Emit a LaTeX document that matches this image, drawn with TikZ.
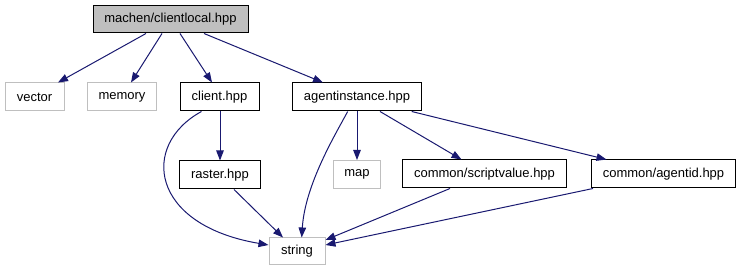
\documentclass[tikz,border=0pt]{standalone}
\usepackage{fontspec}
\setmainfont{Liberation Sans}
\usetikzlibrary{arrows.meta}
\definecolor{linkblue}{HTML}{191970}
\definecolor{greybox}{HTML}{BFBFBF}
\tikzset{
  inc/.style={draw=black, line width=1pt, inner sep=0pt, minimum height=28pt, font=\fontsize{13}{15}\selectfont},
  sysinc/.style={inc, draw=greybox},
  cur/.style={inc, fill=greybox, minimum height=27pt},
  dep/.style={draw=linkblue, line width=1pt, -{Triangle[length=10pt,width=7.5pt,fill=linkblue]}},
}

\begin{document}
\begin{tikzpicture}[x=1pt,y=-1pt]
  \useasboundingbox (0,0) rectangle (737,272);
  \node[cur,minimum width=155pt] (cl) at (170.5,19.5) {machen/clientlocal.hpp};
  \node[sysinc,minimum width=59pt] (vec) at (34.5,97) {vector};
  \node[sysinc,minimum width=69pt] (mem) at (122,97) {memory};
  \node[inc,minimum width=79pt] (cli) at (219.5,97) {client.hpp};
  \node[inc,minimum width=129pt] (ai) at (357,97) {agentinstance.hpp};
  \node[inc,minimum width=81pt] (ras) at (220,175) {raster.hpp};
  \node[sysinc,minimum width=47pt] (map) at (357,174.5) {map};
  \node[inc,minimum width=164pt] (sv) at (484.5,174) {common/scriptvalue.hpp};
  \node[inc,minimum width=144pt] (aid) at (663.5,174) {common/agentid.hpp};
  \node[sysinc,minimum width=56pt,minimum height=27pt] (str) at (297,251.5) {string};
  % includes of clientlocal.hpp
  \draw[dep] ([xshift=-24.5pt]cl.south) -- ([xshift=23.5pt]vec.north);
  \draw[dep] ([xshift=-8.5pt]cl.south) -- ([xshift=9pt]mem.north);
  \draw[dep] ([xshift=9.5pt]cl.south) -- ([xshift=-7.5pt]cli.north);
  \draw[dep] ([xshift=33.5pt]cl.south) -- ([xshift=-34pt]ai.north);
  % client.hpp
  \draw[dep] ([xshift=0.5pt]cli.south) -- (ras.north);
  \draw[dep] ([xshift=-18pt]cli.south) .. controls (140,145) and (150,225) .. ([yshift=6.5pt]str.west);
  \draw[dep] ([xshift=14pt]ras.south) -- ([xshift=-14pt]str.north);
  % agentinstance.hpp
  \draw[dep] ([xshift=-9.3pt]ai.south) .. controls (335,135) and (305,185) .. ([xshift=4.7pt]str.north);
  \draw[dep] (ai.south) -- (map.north);
  \draw[dep] ([xshift=23pt]ai.south) -- ([xshift=-23pt]sv.north);
  \draw[dep] ([xshift=54.7pt]ai.south) -- ([xshift=-57pt]aid.north);
  \draw[dep] ([xshift=-34.5pt]sv.south) -- ([yshift=11.5pt]str.east);
  \draw[dep] ([xshift=-70.5pt]aid.south) -- ([yshift=6.5pt]str.east);
\end{tikzpicture}
\end{document}
